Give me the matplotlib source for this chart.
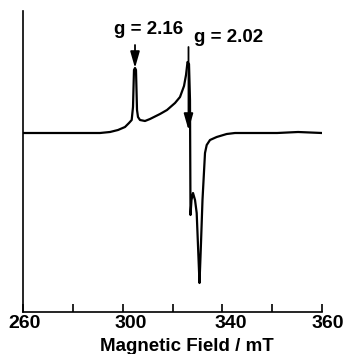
import numpy as np
import matplotlib
matplotlib.use("Agg")
import matplotlib.pyplot as plt
from matplotlib.transforms import ScaledTranslation

# EPR spectrum (field in axis units, intensity arbitrary)
field = [260.0, 285.75, 289.10, 291.77, 294.11, 295.45, 296.35, 296.79, 297.12,
         297.46, 297.79, 298.13, 298.46, 299.13, 300.80, 302.47, 305.82, 308.16,
         310.84, 312.51, 313.85, 314.52, 315.02, 315.52, 315.85, 316.02, 316.35,
         316.86, 317.53, 318.09, 319.03, 319.36, 319.53, 320.03, 320.87, 321.44,
         322.54, 324.78, 328.13, 330.90, 345.0, 352.0, 360.0]
signal = [0, 0, 1, 3, 6, 10, 13, 26, 63,
          65, 63, 23, 16, 13, 12, 14, 19, 23,
          30, 36, 47, 58, 71, 69, 33, -82, -67,
          -60, -67, -80, -150, -124, -110, -67, -20, -12,
          -7, -4, -1, 0, 0, 1, 0]

tick_pos = np.linspace(260, 360, 7)
tick_lab = ["260", "", "300", "", "340", "", "360"]

# g-value markers: arrow x, arrow tail, arrow tip, label x, label y
g_labels = ["g = 2.16", "g = 2.02"]
g_field = [297.46, 315.35]
g_tail = [88, 86]
g_tip = [65, 3]
g_text_x = [302.1, 328.6]
g_text_y = [103, 96]

plt.rcParams["font.family"] = ["Liberation Sans", "DejaVu Sans"]
plt.rcParams["font.weight"] = "bold"

fig = plt.figure(figsize=(3.46, 3.54), dpi=100)
ax = fig.add_axes([23 / 346, 42 / 354, 299 / 346, 301 / 354])

ax.plot(field, signal, color="black", lw=1.6, solid_joinstyle="round")

for lab, fx, y0, y1, tx, ty in zip(g_labels, g_field, g_tail, g_tip, g_text_x, g_text_y):
    ax.annotate("", xy=(fx, y1), xytext=(fx, y0),
                arrowprops=dict(arrowstyle="-|>,head_length=0.7,head_width=0.2",
                                color="black", lw=1.3, mutation_scale=14,
                                shrinkA=0, shrinkB=0))
    ax.text(tx, ty, lab, ha="center", va="center", fontsize=13.5, fontweight="bold")

ax.set_xlim(260, 360)
ax.set_ylim(-179, 122)
ax.set_yticks([])
ax.set_xticks(tick_pos)
ax.set_xticklabels(tick_lab, fontsize=14, fontweight="bold")
ax.tick_params(axis="x", direction="in", length=6, width=1.2, pad=2.5)

# labels in the original sit a little right of their ticks
for lbl, dx in zip(ax.get_xticklabels(), [2, 0, 8, 0, 8, 0, 6]):
    lbl.set_transform(lbl.get_transform() + ScaledTranslation(dx / 100, 0, fig.dpi_scale_trans))

for side in ["top", "right"]:
    ax.spines[side].set_visible(False)
for side in ["left", "bottom"]:
    ax.spines[side].set_linewidth(1.2)

ax.set_xlabel("Magnetic Field / mT", fontsize=13.5, fontweight="bold")
ax.xaxis.set_label_coords(0.549, -0.085)

fig.savefig("out.png", dpi=100)
